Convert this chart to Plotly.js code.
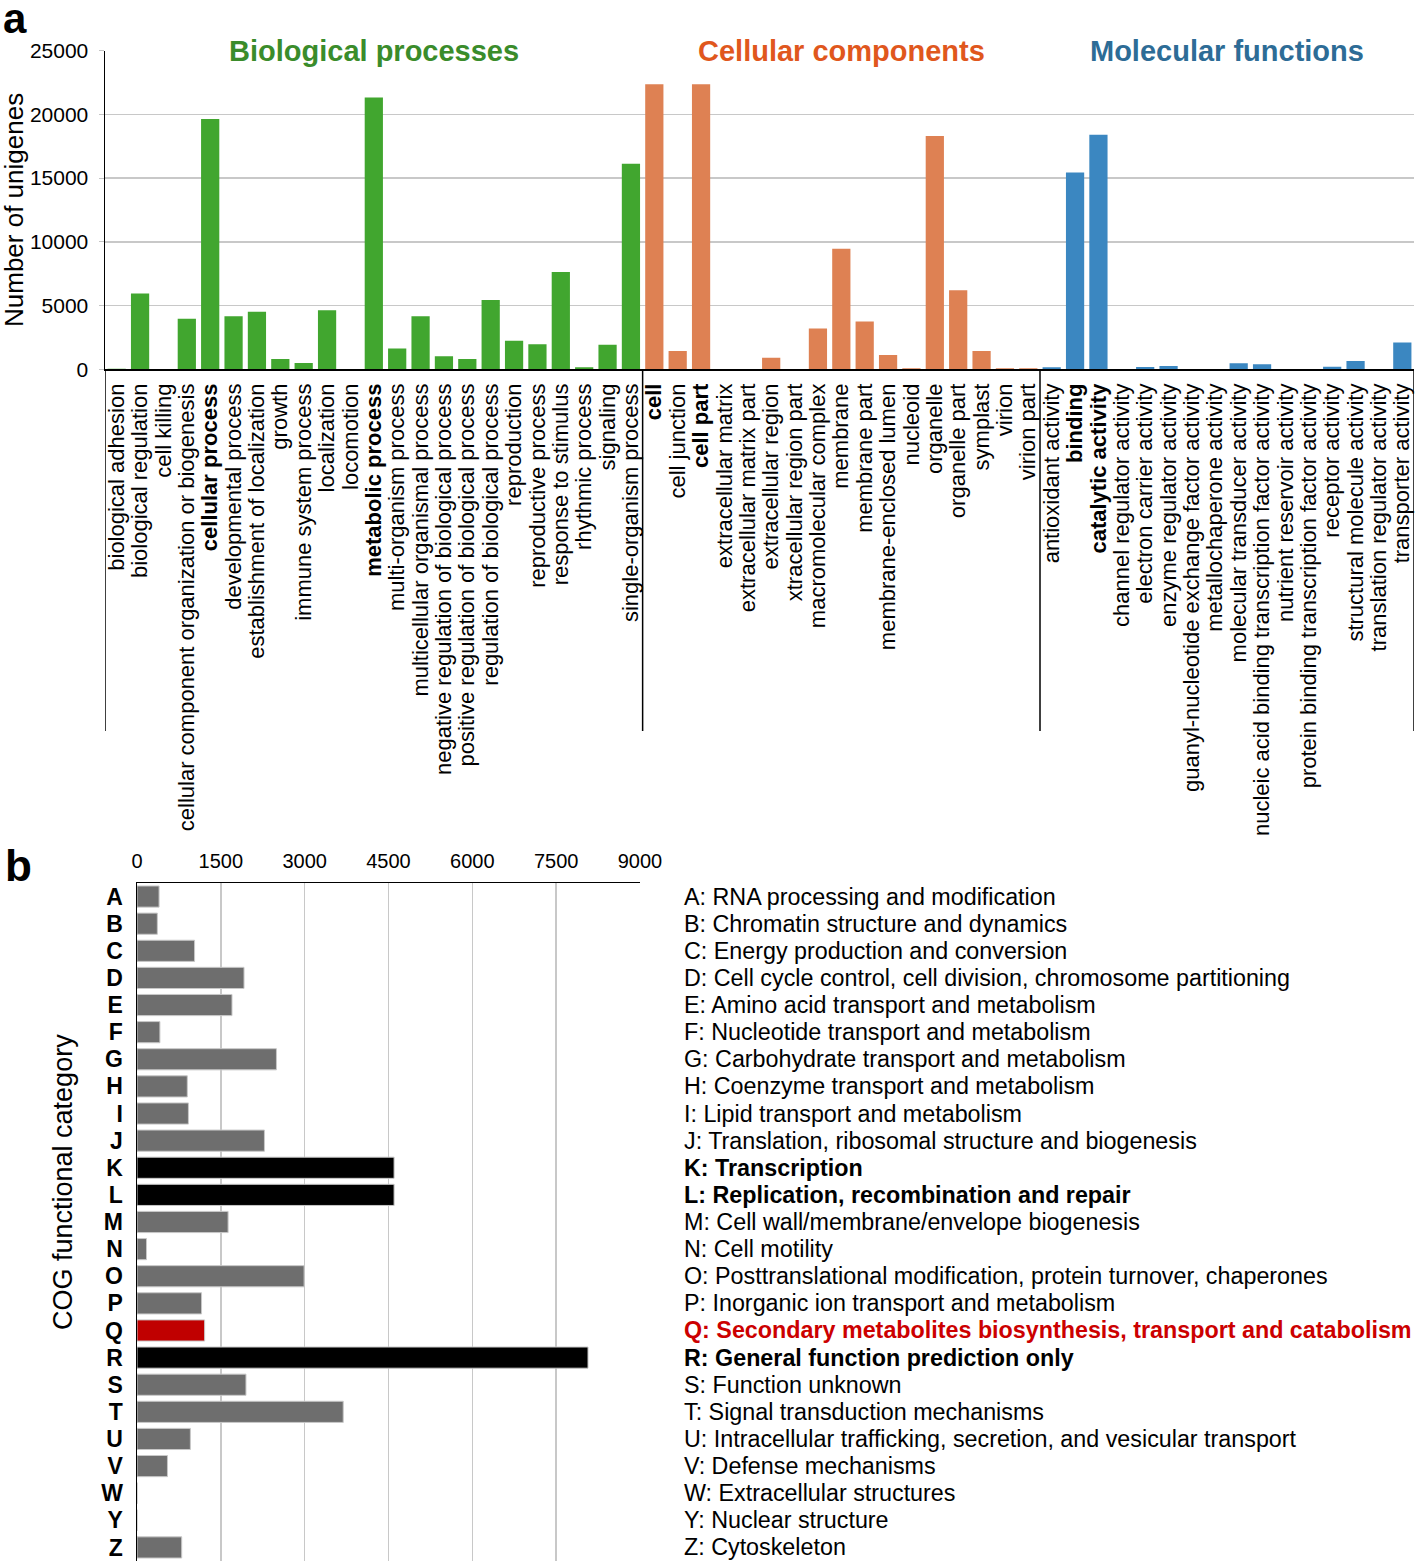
<!DOCTYPE html>
<html>
<head>
<meta charset="utf-8">
<script src="https://cdn.plot.ly/plotly-3.0.1.min.js"></script>
<style>html,body{margin:0;padding:0;background:#fff;}#chart{width:1417px;height:1564px;}</style>
</head>
<body>
<div id="chart"></div>
<script>
// ---------- Panel a: GO classification ----------
const bpTerms = ["biological adhesion","biological regulation","cell killing","cellular component organization or biogenesis","cellular process","developmental process","establishment of localization","growth","immune system process","localization","locomotion","metabolic process","multi-organism process","multicellular organismal process","negative regulation of biological process","positive regulation of biological process","regulation of biological process","reproduction","reproductive process","response to stimulus","rhythmic process","signaling","single-organism process"];
const bpValues = [40, 5950, 10, 3960, 19650, 4170, 4510, 800, 490, 4640, 20, 21320, 1640, 4170, 1020, 810, 5430, 2240, 1960, 7640, 160, 1930, 16130];

const ccTerms = ["cell","cell junction","cell part","extracellular matrix","extracellular matrix part","extracellular region","xtracellular region part","macromolecular complex","membrane","membrane part","membrane-enclosed lumen","nucleoid","organelle","organelle part","symplast","virion","virion part"];
const ccValues = [22370, 1430, 22370, 20, 5, 910, 5, 3210, 9450, 3760, 1120, 90, 18300, 6210, 1430, 90, 90];

const mfTerms = ["antioxidant activity","binding","catalytic activity","channel regulator activity","electron carrier activity","enzyme regulator activity","guanyl-nucleotide exchange factor activity","metallochaperone activity","molecular transducer activity","nucleic acid binding transcription factor activity","nutrient reservoir activity","protein binding transcription factor activity","receptor activity","structural molecule activity","translation regulator activity","transporter activity"];
const mfValues = [160, 15450, 18400, 10, 180, 260, 30, 5, 470, 390, 10, 30, 200, 650, 10, 2110];

const boldTerms = ["cellular process","metabolic process","cell","cell part","binding","catalytic activity"];
const groupTitles = ["Biological processes","Cellular components","Molecular functions"];
const yTicksA = [0, 5000, 10000, 15000, 20000, 25000];

// ---------- Panel b: COG classification ----------
const cogLetters = ["A","B","C","D","E","F","G","H","I","J","K","L","M","N","O","P","Q","R","S","T","U","V","W","Y","Z"];
const cogValues = [395, 364, 1030, 1915, 1700, 410, 2495, 900, 920, 2280, 4600, 4600, 1630, 170, 2990, 1155, 1210, 8070, 1950, 3690, 955, 545, 0, 0, 800];
const cogDescriptions = ["RNA processing and modification","Chromatin structure and dynamics","Energy production and conversion","Cell cycle control, cell division, chromosome partitioning","Amino acid transport and metabolism","Nucleotide transport and metabolism","Carbohydrate transport and metabolism","Coenzyme transport and metabolism","Lipid transport and metabolism","Translation, ribosomal structure and biogenesis","Transcription","Replication, recombination and repair","Cell wall/membrane/envelope biogenesis","Cell motility","Posttranslational modification, protein turnover, chaperones","Inorganic ion transport and metabolism","Secondary metabolites biosynthesis, transport and catabolism","General function prediction only","Function unknown","Signal transduction mechanisms","Intracellular trafficking, secretion, and vesicular transport","Defense mechanisms","Extracellular structures","Nuclear structure","Cytoskeleton"];
const cogBold = ["K","L","R"];
const cogRed = ["Q"];
const xTicksB = [0, 1500, 3000, 4500, 6000, 7500, 9000];

// ---------- styling ----------
const FONT = "Liberation Sans, Arial, Helvetica, sans-serif";
const W = 1417, H = 1564;
const px = v => v / W;
const py = v => 1 - v / H;
const groupColors = ["#41a62f", "#de8153", "#3b87c1"];
const titleColors = ["#3a8c2b", "#e0571d", "#2d6c96"];

const allTerms = bpTerms.concat(ccTerms, mfTerms);
const tickText = allTerms.map(t => boldTerms.includes(t) ? "<b>" + t + "</b>" : t);

const groups = [[bpTerms, bpValues], [ccTerms, ccValues], [mfTerms, mfValues]];
const traces = groups.map((g, i) => ({
  type: "bar", x: g[0], y: g[1], xaxis: "x", yaxis: "y",
  marker: {color: groupColors[i], line: {width: 0}},
  hoverinfo: "x+y", showlegend: false
}));

const cogColors = cogLetters.map(l => cogRed.includes(l) ? "#c00000" : (cogBold.includes(l) ? "#000000" : "#6e6e6e"));
traces.push({
  type: "bar", orientation: "h", y: cogLetters, x: cogValues, xaxis: "x2", yaxis: "y2",
  marker: {color: cogColors, line: {color: "#c8c8c8", width: 1}},
  showlegend: false
});

// group boundaries (category index space)
const bounds = [-0.5, bpTerms.length - 0.5, bpTerms.length + ccTerms.length - 0.5, allTerms.length - 0.5];
const shapes = bounds.map(b => ({
  type: "line", xref: "x", yref: "paper", x0: b, x1: b, y0: py(731), y1: py(369.3),
  line: {color: "#000", width: 1.5}
}));

const annotations = [];
// group titles
let start = 0;
groups.forEach((g, i) => {
  const mid = start + (g[0].length - 1) / 2;
  annotations.push({xref: "x", yref: "y", x: mid, y: 25000,
    text: "<b>" + groupTitles[i] + "</b>", showarrow: false, xanchor: "center", yanchor: "middle",
    font: {family: FONT, size: 29, color: titleColors[i]}});
  start += g[0].length;
});
// axis titles as annotations
annotations.push({xref: "paper", yref: "paper", x: px(14), y: py(210), text: "Number of unigenes", textangle: -90,
  showarrow: false, xanchor: "center", yanchor: "middle", font: {family: FONT, size: 26, color: "#000"}});
annotations.push({xref: "paper", yref: "paper", x: px(63), y: py(1182), text: "COG functional category", textangle: -90,
  showarrow: false, xanchor: "center", yanchor: "middle", font: {family: FONT, size: 27, color: "#000"}});
// panel letters
annotations.push({xref: "paper", yref: "paper", x: px(2), y: py(18), text: "<b>a</b>", showarrow: false, borderpad: 0,
  xanchor: "left", yanchor: "middle", font: {family: FONT, size: 42, color: "#000"}});
annotations.push({xref: "paper", yref: "paper", x: px(4), y: py(865), text: "<b>b</b>", showarrow: false, borderpad: 0,
  xanchor: "left", yanchor: "middle", font: {family: FONT, size: 44, color: "#000"}});
// COG descriptions
cogLetters.forEach((l, i) => {
  let txt = l + ": " + cogDescriptions[i];
  let color = "#000";
  if (cogBold.includes(l) || cogRed.includes(l)) txt = "<b>" + txt + "</b>";
  if (cogRed.includes(l)) color = "#cc0000";
  annotations.push({xref: "paper", yref: "y2", x: px(682), y: l, text: txt, showarrow: false,
    xanchor: "left", yanchor: "middle", font: {family: FONT, size: 23.3, color: color}});
});

const layout = {
  width: W, height: H,
  margin: {l: 0, r: 0, t: 0, b: 0},
  paper_bgcolor: "#fff", plot_bgcolor: "rgba(0,0,0,0)",
  barmode: "overlay", bargap: 0.22,
  font: {family: FONT, color: "#000"},
  xaxis: {
    domain: [px(105), px(1414)], anchor: "y",
    type: "category", categoryorder: "array", categoryarray: allTerms,
    tickmode: "array", tickvals: allTerms, ticktext: tickText,
    tickangle: -90, tickfont: {family: FONT, size: 22, color: "#000"},
    ticks: "", showgrid: false, showline: true, linecolor: "#000", linewidth: 1.5,
    ticklabelstandoff: 4,
    range: [-0.5, allTerms.length - 0.5], fixedrange: true, automargin: false
  },
  yaxis: {
    domain: [py(369.3), py(50.7)], anchor: "x",
    range: [0, 25000], tickmode: "array", tickvals: yTicksA, ticktext: yTicksA.map(String),
    tickfont: {family: FONT, size: 21, color: "#000"},
    ticks: "outside", ticklen: 5, tickcolor: "#c4c4c4",
    showgrid: true, gridcolor: "#c8c8c8", gridwidth: 1.5,
    showline: true, linecolor: "#000", linewidth: 1.5, zeroline: false,
    ticklabelstandoff: 6, automargin: false
  },
  xaxis2: {
    domain: [px(137), px(640)], anchor: "y2", side: "top",
    range: [0, 9000], tickmode: "array", tickvals: xTicksB, ticktext: xTicksB.map(String),
    tickfont: {family: FONT, size: 20, color: "#000"},
    ticks: "", showgrid: true, gridcolor: "#c8c8c8", gridwidth: 1.5,
    showline: true, linecolor: "#000", linewidth: 1.5, zeroline: false,
    ticklabelstandoff: 6, automargin: false
  },
  yaxis2: {
    domain: [py(1561), py(883)], anchor: "x2",
    type: "category", categoryorder: "array", categoryarray: cogLetters,
    range: [cogLetters.length - 0.5, -0.5],
    tickmode: "array", tickvals: cogLetters, ticktext: cogLetters.map(l => "<b>" + l + "</b>"),
    tickfont: {family: FONT, size: 23, color: "#000"},
    ticks: "", showgrid: false, showline: true, linecolor: "#000", linewidth: 1.5,
    ticklabelstandoff: 8, automargin: false
  },
  shapes: shapes,
  annotations: annotations
};

Plotly.newPlot("chart", traces, layout, {displayModeBar: false, staticPlot: true});
</script>
</body>
</html>
